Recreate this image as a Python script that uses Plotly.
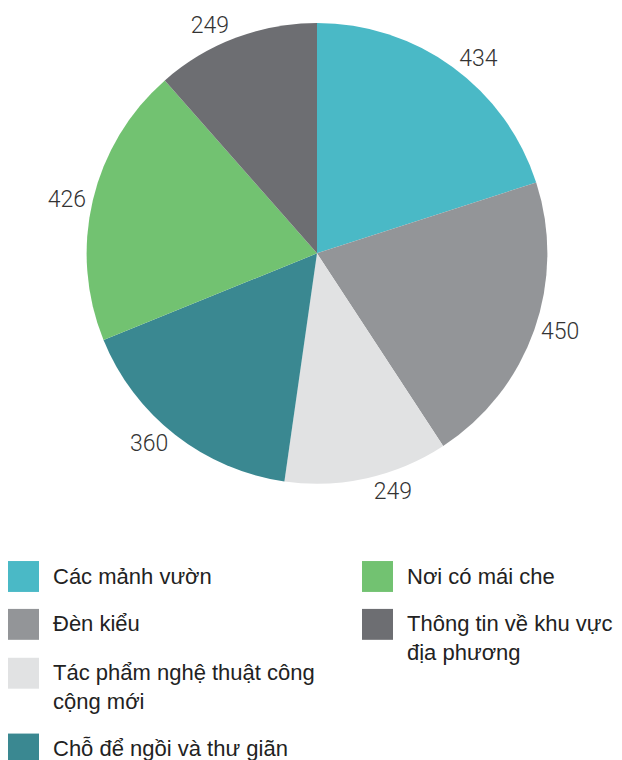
import plotly.graph_objects as go

labels = ["Các mảnh vườn", "Đèn kiểu", "Tác phẩm nghệ thuật công cộng mới",
          "Chỗ để ngồi và thư giãn", "Nơi có mái che", "Thông tin về khu vực địa phương"]
legend_text = ["Các mảnh vườn", "Đèn kiểu", "Tác phẩm nghệ thuật công<br>cộng mới",
               "Chỗ để ngồi và thư giãn", "Nơi có mái che", "Thông tin về khu vực<br>địa phương"]
values = [434, 450, 249, 360, 426, 249]
colors = ["#4AB9C6", "#939598", "#E1E2E3", "#3A8891", "#72C271", "#6D6E72"]

OFF = 8  # page body margin
W, H = 622 - OFF, 760 - OFF
cx, cy, r = 317 - OFF, 252 - OFF, 231

fig = go.Figure(go.Pie(
    labels=labels, values=values, sort=False, direction="clockwise", rotation=0,
    marker=dict(colors=colors, line=dict(width=0)),
    textinfo="value", textposition="outside",
    textfont=dict(family="Roboto", size=23, color="#333333", weight=300),
    domain=dict(x=[(cx - r) / W, (cx + r) / W], y=[1 - (cy + r) / H, 1 - (cy - r) / H]),
    showlegend=False, hoverinfo="label+value",
))

# legend layout: (column x, row center y)
legend_pos = [(8, 576), (8, 624), (8, 673), (8, 749), (362, 576), (362, 624)]
shapes, annotations = [], []
for (x, y), col, txt in zip(legend_pos, colors, legend_text):
    x -= OFF
    y -= OFF
    shapes.append(dict(type="rect", xref="paper", yref="paper",
                       x0=x / W, x1=(x + 31) / W, y0=1 - (y + 15.5) / H, y1=1 - (y - 15.5) / H,
                       fillcolor=col, line=dict(width=0)))
    annotations.append(dict(xref="paper", yref="paper", x=(x + 43) / W, y=1 - (y - 15) / H,
                            xanchor="left", yanchor="top", align="left", showarrow=False,
                            text=txt, font=dict(family="Liberation Sans", size=22, color="#222222")))

fig.update_layout(width=W, height=H, margin=dict(l=0, r=0, t=0, b=0),
                  paper_bgcolor="white", plot_bgcolor="white",
                  shapes=shapes, annotations=annotations)
fig.write_html("out.html")
